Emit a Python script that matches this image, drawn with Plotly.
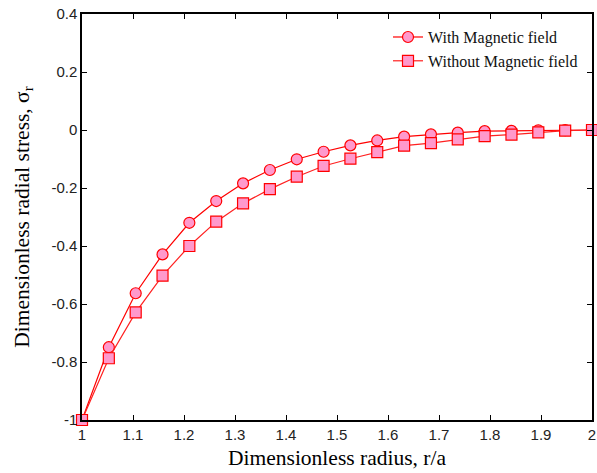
import plotly.graph_objects as go

x_vals = [1.0, 1.0526, 1.1053, 1.1579, 1.2105, 1.2632, 1.3158, 1.3684, 1.4211, 1.4737,
          1.5263, 1.5789, 1.6316, 1.6842, 1.7368, 1.7895, 1.8421, 1.8947, 1.9474, 2.0]
with_field = [-1.0, -0.749, -0.563, -0.429, -0.320, -0.245, -0.184, -0.138, -0.101, -0.075,
              -0.053, -0.036, -0.023, -0.015, -0.009, -0.004, -0.003, -0.001, -0.0005, 0.0]
without_field = [-1.0, -0.787, -0.629, -0.502, -0.400, -0.316, -0.253, -0.204, -0.161, -0.124,
                 -0.099, -0.076, -0.054, -0.045, -0.032, -0.021, -0.016, -0.008, -0.002, 0.0]
x_ticks = [1, 1.1, 1.2, 1.3, 1.4, 1.5, 1.6, 1.7, 1.8, 1.9, 2]
x_tick_text = ["1", "1.1", "1.2", "1.3", "1.4", "1.5", "1.6", "1.7", "1.8", "1.9", "2"]
y_ticks = [-1, -0.8, -0.6, -0.4, -0.2, 0, 0.2, 0.4]
y_tick_text = ["-1", "-0.8", "-0.6", "-0.4", "-0.2", "0", "0.2", "0.4"]

fig = go.Figure()
fig.add_trace(go.Scatter(
    x=x_vals, y=with_field, mode="lines+markers", name="With Magnetic field",
    line=dict(color="#ff0000", width=1.2), cliponaxis=False,
    marker=dict(symbol="circle", size=11, color="#ff99cc", line=dict(color="#ff0000", width=1.2)),
))
fig.add_trace(go.Scatter(
    x=x_vals, y=without_field, mode="lines+markers", name="Without Magnetic field",
    line=dict(color="#ff2020", width=1.2), cliponaxis=False,
    marker=dict(symbol="square", size=11, color="#ff99cc", line=dict(color="#ff0000", width=1.2)),
))

axis_common = dict(
    showgrid=False, zeroline=False, showline=True, linecolor="black", linewidth=1.5,
    mirror="ticks", ticks="inside", ticklen=5, tickwidth=1, tickcolor="black",
    ticklabeloverflow="allow",
    tickfont=dict(family="Liberation Sans, Arial", size=15, color="#222222"),
)

fig.update_layout(
    width=597, height=473,
    margin=dict(l=82, r=1, t=14, b=53),
    plot_bgcolor="white", paper_bgcolor="white",
    xaxis=dict(range=[1, 2], tickvals=x_ticks, ticktext=x_tick_text,
               title=dict(text="Dimensionless radius, r/a", standoff=8,
                          font=dict(family="Liberation Serif, Times New Roman", size=21.5, color="black")),
               **axis_common),
    yaxis=dict(range=[-1, 0.4], tickvals=y_ticks, ticktext=y_tick_text,
               title=dict(text="Dimensionless radial stress, σ<sub>r</sub>", standoff=16,
                          font=dict(family="Liberation Serif, Times New Roman", size=21.5, color="black")),
               **axis_common),
    legend=dict(x=0.6, y=0.985, xanchor="left", yanchor="top",
                bgcolor="rgba(0,0,0,0)", borderwidth=0,
                font=dict(family="Liberation Serif, Times New Roman", size=16, color="#111111"),
                tracegroupgap=2),
    showlegend=True,
)

fig.write_html("out.html")
